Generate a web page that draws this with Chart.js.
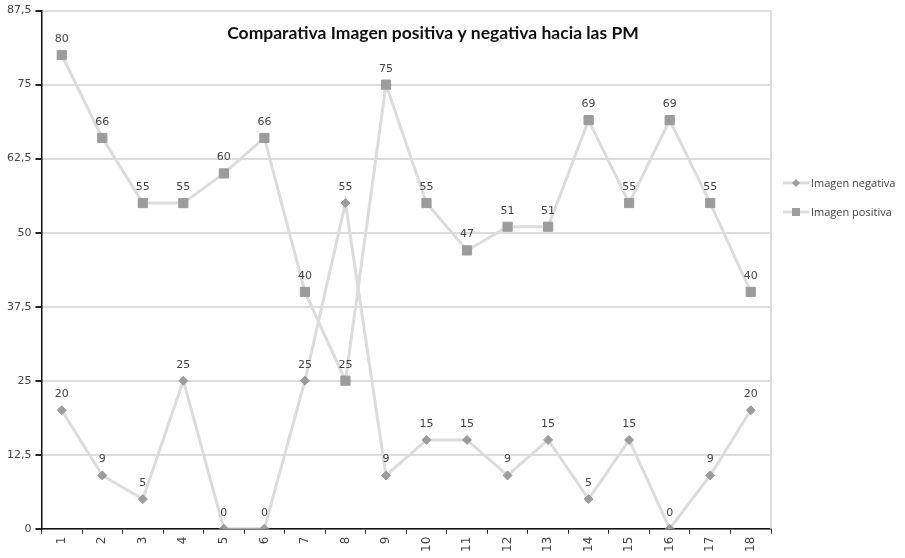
<!DOCTYPE html>
<html>
<head>
<meta charset="utf-8">
<script src="https://cdn.jsdelivr.net/npm/chart.js@4/dist/chart.umd.min.js"></script>
<style>
  html, body { margin: 0; padding: 0; background: #fff; }
  #wrap { width: 905px; height: 558px; }
</style>
</head>
<body>
<div id="wrap"><canvas id="chart" width="905" height="558"></canvas></div>
<script>
// --- DATA ---
const categories = ['1', '2', '3', '4', '5', '6', '7', '8', '9', '10', '11', '12', '13', '14', '15', '16', '17', '18'];
const imagenNegativa = [20, 9, 5, 25, 0, 0, 25, 55, 9, 15, 15, 9, 15, 5, 15, 0, 9, 20];
const imagenPositiva = [80, 66, 55, 55, 60, 66, 40, 25, 75, 55, 47, 51, 51, 69, 55, 69, 55, 40];
const yTicks = [0, 12.5, 25, 37.5, 50, 62.5, 75, 87.5];
const chartTitle = 'Comparativa Imagen positiva y negativa hacia las PM';

// --- STYLE ---
const LINE_COLOR = '#dcdcdc';
const MARKER_COLOR = '#9c9c9c';
const TEXT_COLOR = '#444';
const FONT = '"DejaVu Sans", sans-serif';

const formatTick = v => String(v).replace('.', ',');

// etiquetas encima de cada punto
const pointLabels = {
    id: 'pointLabels',
    afterDatasetsDraw(chart) {
        const ctx = chart.ctx;
        ctx.save();
        ctx.font = '11px ' + FONT;
        ctx.fillStyle = TEXT_COLOR;
        ctx.textAlign = 'center';
        ctx.textBaseline = 'alphabetic';
        chart.data.datasets.forEach((ds, i) => {
            chart.getDatasetMeta(i).data.forEach((pt, j) => {
                ctx.fillText(String(ds.data[j]), pt.x, pt.y - 13);
            });
        });
        ctx.restore();
    }
};

// titulo dentro del area, borde derecho y leyenda con linea + marcador
const decorations = {
    id: 'decorations',
    beforeDatasetsDraw(chart) {
        const { ctx, chartArea } = chart;
        ctx.save();
        ctx.strokeStyle = LINE_COLOR;
        ctx.lineWidth = 2;
        ctx.beginPath();
        ctx.moveTo(chartArea.right, chartArea.top);
        ctx.lineTo(chartArea.right, chartArea.bottom);
        ctx.stroke();
        ctx.restore();
    },
    afterDraw(chart) {
        const { ctx, chartArea } = chart;
        ctx.save();
        ctx.font = 'bold 17.5px Lato, sans-serif';
        ctx.fillStyle = '#111';
        ctx.textAlign = 'center';
        ctx.textBaseline = 'middle';
        ctx.fillText(chartTitle, 433, 33);

        const x0 = chartArea.right + 12;
        const rows = [
            { label: chart.data.datasets[0].label, y: 183, style: 'diamond' },
            { label: chart.data.datasets[1].label, y: 212, style: 'square' }
        ];
        rows.forEach(r => {
            ctx.strokeStyle = LINE_COLOR;
            ctx.lineWidth = 3;
            ctx.beginPath();
            ctx.moveTo(x0, r.y);
            ctx.lineTo(x0 + 26, r.y);
            ctx.stroke();
            ctx.fillStyle = MARKER_COLOR;
            const cx = x0 + 13;
            if (r.style === 'diamond') {
                ctx.beginPath();
                ctx.moveTo(cx, r.y - 4);
                ctx.lineTo(cx + 4, r.y);
                ctx.lineTo(cx, r.y + 4);
                ctx.lineTo(cx - 4, r.y);
                ctx.closePath();
                ctx.fill();
            } else {
                ctx.fillRect(cx - 4, r.y - 4, 8, 8);
            }
            ctx.fillStyle = TEXT_COLOR;
            ctx.font = '11px "Open Sans", sans-serif';
            ctx.textAlign = 'left';
            ctx.textBaseline = 'middle';
            ctx.fillText(r.label, x0 + 28, r.y + 1);
        });
        ctx.restore();
    }
};

// --- CHART ---
new Chart(document.getElementById('chart').getContext('2d'), {
    type: 'line',
    data: {
        labels: categories,
        datasets: [
            {
                label: 'Imagen negativa',
                data: imagenNegativa,
                borderColor: LINE_COLOR,
                borderWidth: 3,
                pointStyle: 'rectRot',
                pointRadius: 4.5,
                pointBackgroundColor: MARKER_COLOR,
                pointBorderColor: MARKER_COLOR,
                pointBorderWidth: 1,
                tension: 0
            },
            {
                label: 'Imagen positiva',
                data: imagenPositiva,
                borderColor: LINE_COLOR,
                borderWidth: 3,
                pointStyle: 'rect',
                pointRadius: 6.5,
                pointBackgroundColor: MARKER_COLOR,
                pointBorderColor: MARKER_COLOR,
                pointBorderWidth: 1,
                tension: 0
            }
        ]
    },
    options: {
        responsive: false,
        animation: false,
        layout: { padding: { top: 0, right: 134, left: 3, bottom: 3 } },
        plugins: {
            legend: { display: false },
            title: { display: false },
            tooltip: { enabled: false }
        },
        scales: {
            x: {
                offset: true,
                grid: { offset: true, drawOnChartArea: false, color: '#222', tickLength: 5, tickColor: '#222' },
                border: { color: '#111', width: 1.5 },
                ticks: {
                    minRotation: 90, maxRotation: 90, padding: 3,
                    color: TEXT_COLOR, font: { family: FONT, size: 12 }
                }
            },
            y: {
                min: 0,
                max: 87.5,
                afterBuildTicks: axis => { axis.ticks = yTicks.map(v => ({ value: v })); },
                grid: { color: LINE_COLOR, lineWidth: 2, tickLength: 6, tickColor: '#222' },
                border: { color: '#111', width: 1.5 },
                ticks: {
                    padding: 4,
                    color: TEXT_COLOR,
                    font: { family: FONT, size: 11 },
                    callback: v => formatTick(v)
                }
            }
        }
    },
    plugins: [pointLabels, decorations]
});
</script>
</body>
</html>
